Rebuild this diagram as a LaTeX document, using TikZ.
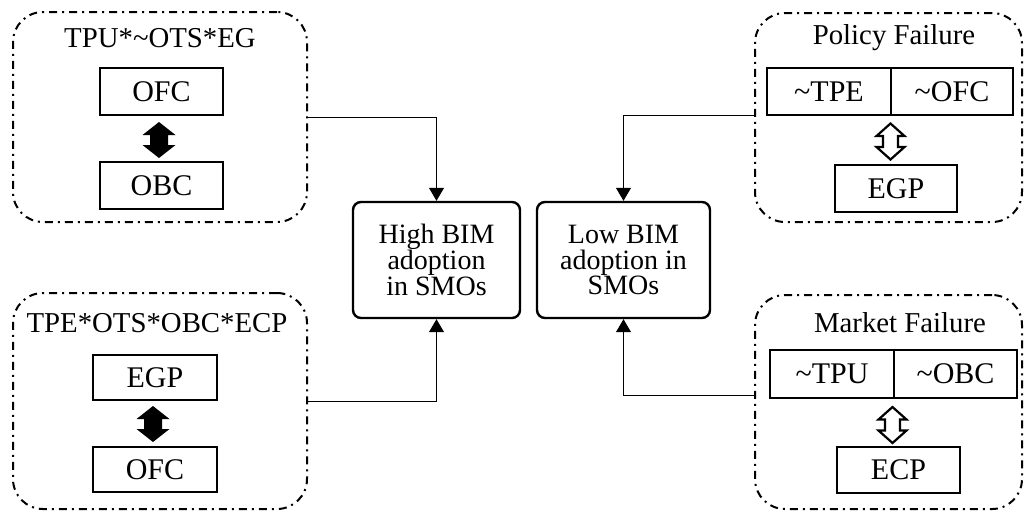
\documentclass[tikz,border=0pt]{standalone}
\usepackage{fontspec}
\setmainfont{Liberation Serif}
\usetikzlibrary{arrows.meta}
\begin{document}
\begin{tikzpicture}[x=0.5pt,y=-0.5pt,
  grp/.style={draw,line width=1pt,rounded corners=15pt,
    dash pattern=on 4pt off 2.5pt on 1pt off 2.5pt,inner sep=0pt},
  vbox/.style={draw,line width=1.2pt,inner sep=0pt,font=\fontsize{15}{18}\selectfont},
  outbox/.style={draw,line width=1.2pt,rounded corners=4pt,inner sep=0pt,
    align=center,font=\fontsize{14}{12.8}\selectfont},
  ttl/.style={inner sep=0pt,font=\fontsize{14.4}{17}\selectfont},
  conn/.style={line width=0.5pt,-{Triangle[length=6.5pt,width=7.5pt]}},
  pics/fullarrow/.style={code={
    \path[fill=black] (0,-18) -- (16.5,-5) -- (9,-5) -- (9,5) -- (16.5,5)
      -- (0,18) -- (-16.5,5) -- (-9,5) -- (-9,-5) -- (-16.5,-5) -- cycle;}},
  pics/openarrow/.style={code={
    \path[draw=black,fill=white,line width=1.1pt,line join=miter] (0,-18) -- (14,-5.5) -- (7.5,-5.5) -- (7.5,5.5) -- (14,5.5)
      -- (0,18) -- (-14,5.5) -- (-7.5,5.5) -- (-7.5,-5.5) -- (-14,-5.5) -- cycle;}}
]
\useasboundingbox (0,0) rectangle (1024,511);

% group frames
\node[grp,minimum width=147pt,minimum height=105pt] (tl) at (160,117) {};
\node[grp,minimum width=147pt,minimum height=108pt] (bl) at (160,401) {};
\node[grp,minimum width=133.5pt,minimum height=104.5pt] (tr) at (888.5,117.5) {};
\node[grp,minimum width=133.5pt,minimum height=107pt] (br) at (888.5,402) {};

% titles
\node[ttl] (tlt) at (160,38) {TPU*\textasciitilde OTS*EG};
\node[ttl] (blt) at (157,323) {TPE*OTS*OBC*ECP};
\node[ttl] (trt) at (894,38) {Policy Failure};
\node[ttl] (brt) at (900,323) {Market Failure};

% inner boxes
\node[vbox,minimum width=61.5pt,minimum height=23.5pt] (ofc1) at (161.5,91.5) {OFC};
\node[vbox,minimum width=61.5pt,minimum height=23.5pt] (obc1) at (161.5,185.5) {OBC};
\node[vbox,minimum width=62pt,minimum height=22.5pt] (egp1) at (155,377.5) {EGP};
\node[vbox,minimum width=62pt,minimum height=22.5pt] (ofc2) at (155,469.5) {OFC};

\node[vbox,minimum width=62pt,minimum height=23.5pt] (tpe) at (829,91.5) {\textasciitilde TPE};
\node[vbox,minimum width=61pt,minimum height=23.5pt] (ofc3) at (952,91.5) {\textasciitilde OFC};
\node[vbox,minimum width=61pt,minimum height=23.5pt] (egp2) at (896,188.5) {EGP};

\node[vbox,minimum width=62pt,minimum height=24pt] (tpu) at (832,374) {\textasciitilde TPU};
\node[vbox,minimum width=61.5pt,minimum height=24pt] (obc2) at (955.5,374) {\textasciitilde OBC};
\node[vbox,minimum width=61.5pt,minimum height=23pt] (ecp) at (898.5,470) {ECP};

% double arrows
\pic at (159,140) {fullarrow};
\pic at (153,424) {fullarrow};
\pic at (890.5,141.5) {openarrow};
\pic at (892.5,425) {openarrow};

% outcome boxes
\node[outbox,minimum width=83.5pt,minimum height=58pt] (high) at (436.5,260)
  {High BIM\\adoption\\in SMOs};
\node[outbox,minimum width=86.5pt,minimum height=58pt] (low) at (623.5,260)
  {Low BIM\\adoption in\\SMOs};

% connectors
\draw[conn] (tl.east) -| (high.north);
\draw[conn] (bl.east) -| (high.south);
\draw[conn] ([yshift=1pt]tr.west) -| (low.north);
\draw[conn] ([yshift=3.5pt]br.west) -| (low.south);
\end{tikzpicture}
\end{document}
